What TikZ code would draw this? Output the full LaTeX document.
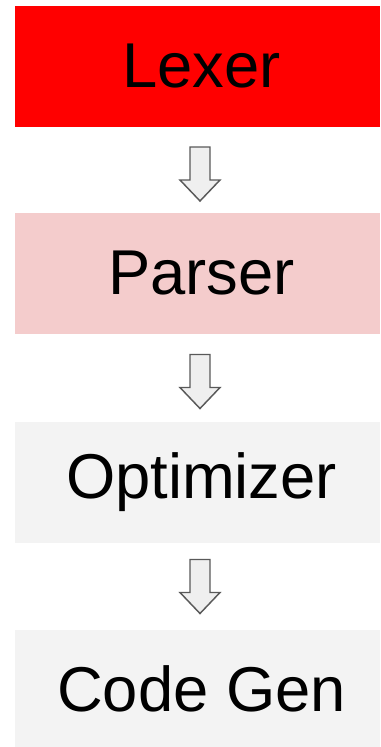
\documentclass[tikz,border=0pt]{standalone}
\usepackage{fontspec}
\setmainfont{Liberation Sans}
\usetikzlibrary{calc}
\definecolor{lexred}{HTML}{FF0000}
\definecolor{parsepink}{HTML}{F4CCCC}
\definecolor{stagegrey}{HTML}{F3F3F3}
\definecolor{arrowfill}{HTML}{EFEFEF}
\definecolor{arrowline}{HTML}{595959}
\tikzset{
  stage/.style={rectangle, draw=none, minimum width=273.75pt, inner sep=0pt,
    font=\fontsize{47.5}{56}\selectfont, text=black},
  stagelabel/.style={inner sep=0pt, font=\fontsize{47.5}{56}\selectfont, text=black, xshift=3pt},
  blockarrow/.style={fill=arrowfill, draw=arrowline, line width=1.1pt, line join=miter}
}
% hollow down arrow, 54 units tall, centred on the given point
\newcommand\flowarrow[1]{%
  \draw[blockarrow, shift={(#1)}]
    (-10,-27) -- (10,-27) -- (10,6) -- (20,6) -- (0,27) -- (-20,6) -- (-10,6) -- cycle;}
\begin{document}
\begin{tikzpicture}[x=0.75pt, y=-0.75pt]
  \useasboundingbox (0,0) rectangle (380,747);
  \node[stage, fill=lexred, minimum height=90.75pt] (lexer) at (197.5,66.5) {};
  \node[stage, fill=parsepink, minimum height=90.75pt] (parser) at (197.5,273.5) {};
  \node[stage, fill=stagegrey, minimum height=90.75pt] (optimizer) at (197.5,482.5) {};
  \node[stage, fill=stagegrey, minimum height=87.75pt] (codegen) at (197.5,688.5) {};
  \node[stagelabel] (lexertext) at (lexer.center) {Lexer};
  \node[stagelabel] (parsertext) at (parser.center) {Parser};
  \node[stagelabel] (optimizertext) at (optimizer.center) {Optimizer};
  \node[stagelabel] (codegentext) at (codegen.center) {Code Gen};
  \coordinate (a1) at ($(lexer.south)!0.5!(parser.north)+(2.5,4)$);
  \coordinate (a2) at ($(parser.south)!0.5!(optimizer.north)+(2.5,3.5)$);
  \coordinate (a3) at ($(optimizer.south)!0.5!(codegen.north)+(2.5,0)$);
  \flowarrow{a1}
  \flowarrow{a2}
  \flowarrow{a3}
\end{tikzpicture}
\end{document}
